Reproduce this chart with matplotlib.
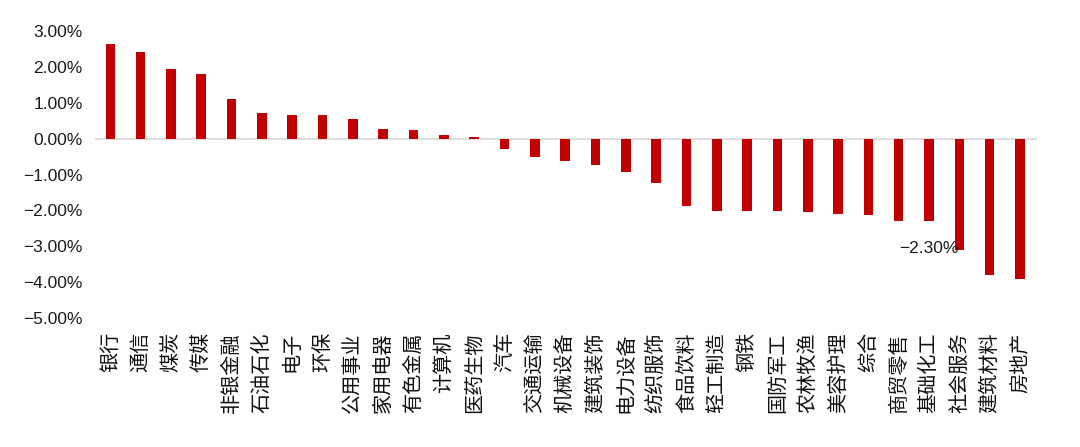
import matplotlib
matplotlib.use("Agg")
import matplotlib.pyplot as plt
import numpy as np
from matplotlib.ticker import FuncFormatter

plt.rcParams["font.family"] = ["Liberation Sans", "Noto Sans CJK SC", "DejaVu Sans"]

industries = ["银行", "通信", "煤炭", "传媒", "非银金融", "石油石化", "电子", "环保",
              "公用事业", "家用电器", "有色金属", "计算机", "医药生物", "汽车", "交通运输",
              "机械设备", "建筑装饰", "电力设备", "纺织服饰", "食品饮料", "轻工制造", "钢铁",
              "国防军工", "农林牧渔", "美容护理", "综合", "商贸零售", "基础化工", "社会服务",
              "建筑材料", "房地产"]
returns = [2.64, 2.41, 1.94, 1.79, 1.09, 0.71, 0.66, 0.66,
           0.56, 0.26, 0.23, 0.10, 0.04, -0.30, -0.50,
           -0.63, -0.73, -0.94, -1.23, -1.88, -2.01, -2.02,
           -2.02, -2.05, -2.11, -2.13, -2.28, -2.30, -3.09,
           -3.80, -3.92]
yticks = [3, 2, 1, 0, -1, -2, -3, -4, -5]
label_name = "基础化工"

fig = plt.figure(figsize=(10.8, 4.47), dpi=100)
ax = fig.add_axes([0.088, 0.288, 0.872, 0.643])

x = np.arange(len(industries))
ax.bar(x, returns, width=0.31, color="#C00000", zorder=2)
ax.axhline(0, color="#d9d9d9", linewidth=1.2, zorder=1)

ax.set_xlim(-0.5, len(industries) - 0.45)
ax.set_ylim(-5, 3)
ax.set_yticks(yticks)
ax.yaxis.set_major_formatter(FuncFormatter(lambda v, p: f"{v:.2f}%".replace("-", "\u2212")))
ax.set_xticks(x)
ax.set_xticklabels(industries, rotation=90, fontsize=14.5, va="top", ha="center",
                   color="#111111")
ax.tick_params(axis="x", length=0, pad=10)
ax.tick_params(axis="y", length=0, pad=9, labelsize=12.5, labelcolor="#1a1a1a")
for side in ["top", "right", "left", "bottom"]:
    ax.spines[side].set_visible(False)

i = industries.index(label_name)
ax.annotate(f"{returns[i]:.2f}%".replace("-", "\u2212"), (x[i], returns[i]),
            xytext=(0, -27), textcoords="offset pixels",
            ha="center", va="center", fontsize=12.5, color="#1a1a1a")

fig.savefig("out.png", dpi=100)
